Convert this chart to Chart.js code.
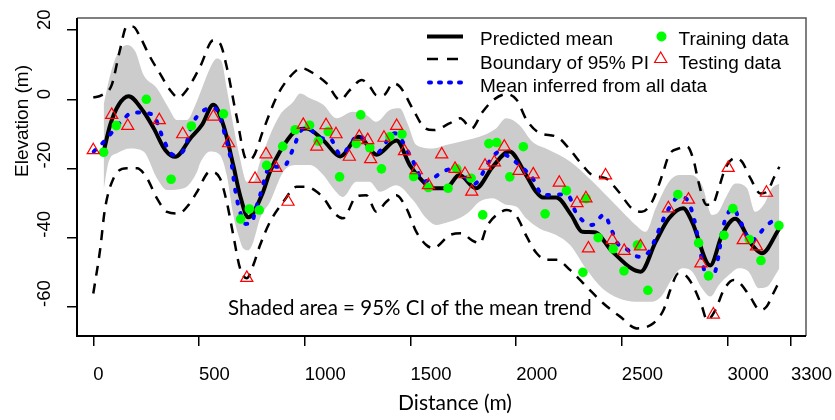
<!DOCTYPE html>
<html>
<head>
<meta charset="utf-8">
<script src="https://cdn.jsdelivr.net/npm/chart.js@4.4.1/dist/chart.umd.min.js"></script>
<style>
  html, body { margin: 0; padding: 0; background: #fff; }
  canvas { display: block; }
</style>
</head>
<body>
<canvas id="chart" width="835" height="420"></canvas>
<script>
// tick labels
const xTicks = [0, 500, 1000, 1500, 2000, 2500, 3000, 3300];
const yTicks = [-60, -40, -20, 0, 20];

// predicted mean (black solid)
const meanDist = [49, 80, 120, 167, 238, 286, 341, 388, 459, 514, 568, 615, 662, 694, 733, 797, 836, 883, 962, 1009,
  1090, 1168, 1256, 1340, 1434, 1497, 1560, 1606, 1668, 1731, 1810, 1889, 1968, 2047, 2094, 2127, 2190, 2260, 2313,
  2370, 2455, 2589, 2660, 2723, 2790, 2832, 2918, 2974, 3036, 3116, 3163, 3243];
const meanElev = [-15.1, -7.4, -1.6, 0.9, -3.6, -8.4, -14.7, -16.6, -11.3, -7.4, -1.6, -7.4, -19, -27.7, -34.1, -27.7,
  -20.9, -15.1, -8.9, -8.4, -12, -16.5, -10.8, -16, -11.9, -19, -23.8, -25.7, -25.7, -21.9, -25.7, -19.5, -15.1, -21.9,
  -26.7, -28.4, -28.4, -33.4, -38.3, -38.4, -44, -49.8, -41.2, -34.4, -31.5, -35.4, -48, -39.2, -34.5, -42.1, -44.5, -37.5];

// mean inferred from all data (blue dotted)
const allDist = [2, 57, 128, 188, 286, 309, 336, 380, 428, 467, 509, 572, 631, 655, 670, 694, 720, 749, 765, 789, 836,
  899, 946, 978, 1009, 1088, 1118, 1170, 1256, 1340, 1425, 1497, 1528, 1560, 1607, 1654, 1716, 1740, 1800, 1873, 1921,
  1953, 2015, 2078, 2126, 2200, 2250, 2281, 2360, 2415, 2455, 2479, 2518, 2581, 2629, 2652, 2691, 2723, 2770, 2802,
  2841, 2879, 2903, 2935, 2958, 2974, 2998, 3029, 3053, 3077, 3108, 3139, 3187, 3234, 3248];
const allElev = [-15.1, -11.8, -6.7, -3.8, -4.5, -7.9, -12.2, -16.1, -14.7, -7.4, -3.8, -2.5, -12.2, -19, -25.7, -32.5,
  -36, -35.8, -32.5, -27.7, -19.5, -19.5, -14.2, -9.4, -8.4, -11.3, -11.3, -16, -10.5, -15.5, -9.8, -16.1, -19.9, -23.8,
  -22.8, -20.9, -19.9, -21, -24.5, -18, -15.1, -16.1, -19, -22.8, -27.7, -27.5, -28.1, -32.5, -36.3, -33.4, -38.3, -41.6,
  -43.1, -45.5, -44, -41.2, -35.4, -31.5, -28.2, -28.6, -34.4, -46.4, -51.7, -50.8, -45, -38.3, -33.4, -31.5, -34.4,
  -37.3, -41.2, -39.7, -36.3, -34.9, -34.9];

// 95% CI of the mean trend (grey band)
const ciUpDist = [49, 80, 112, 159, 199, 238, 301, 357, 396, 443, 483, 514, 552, 584, 607, 631, 662, 694, 726, 757, 789,
  836, 883, 946, 978, 1025, 1088, 1150, 1228, 1291, 1339, 1402, 1449, 1489, 1528, 1607, 1668, 1763, 1826, 1905, 1953,
  2015, 2078, 2141, 2204, 2255, 2345, 2440, 2502, 2565, 2613, 2660, 2723, 2770, 2825, 2879, 2927, 2958, 2990, 3037,
  3092, 3131, 3171, 3210, 3245];
const ciUpElev = [-1.6, 7, 12.8, 15.7, 13.8, 7, 3.2, -2.6, -6, -6, -1.6, 3.2, 9, 11.8, 10.9, 3.2, -7.4, -17, -23.8, -23.8,
  -18, -10.3, -4.5, -0.7, 1.7, 0.3, -1.6, -5.5, -3.6, -4.5, -6.5, -3.1, -2.6, -7.4, -13.2, -14.2, -13.2, -11.8, -10.8,
  -8.4, -5.5, -7.4, -12.3, -14.2, -16.1, -18, -22.8, -28.6, -32.5, -36.3, -38.3, -31.5, -23.8, -21.9, -21.9, -24.8,
  -33.4, -32.5, -28.6, -24.3, -25.7, -32.5, -30.5, -25.7, -24.3];
const ciLoDist = [49, 73, 112, 175, 238, 301, 349, 428, 491, 505, 552, 599, 631, 662, 686, 710, 733, 757, 789, 836, 899,
  962, 1025, 1088, 1134, 1181, 1244, 1307, 1355, 1433, 1512, 1575, 1622, 1673, 1731, 1779, 1826, 1889, 1953, 2000,
  2047, 2110, 2189, 2255, 2329, 2407, 2485, 2565, 2643, 2691, 2739, 2786, 2833, 2879, 2919, 2958, 3006, 3053, 3100,
  3148, 3187, 3226, 3245];
const ciLoElev = [-26.2, -18, -15.6, -14.2, -15.1, -22.8, -26.2, -25.7, -20.9, -18.5, -15.1, -16.1, -21.9, -33.4, -39.2,
  -43.1, -43.6, -41.2, -34.4, -29.6, -20.9, -19, -19, -21.9, -25.7, -28.2, -23.8, -23.8, -26.7, -24.8, -29.1, -34.4,
  -36.3, -35.6, -34.4, -32.5, -29.6, -28.6, -30.5, -31, -34.4, -37.3, -39.2, -42.1, -48.8, -54.6, -57.5, -58.5, -58.5,
  -56.6, -51.7, -48.8, -49.8, -54.6, -57, -53.7, -50.8, -48.8, -49.8, -54.6, -54.2, -50.8, -48.8];

// boundary of 95% PI (black dashed)
const piUpDist = [0, 40, 87, 126, 158, 189, 221, 268, 315, 363, 402, 442, 505, 568, 599, 631, 678, 726, 757, 804, 868,
  930, 986, 1041, 1104, 1167, 1214, 1270, 1309, 1340, 1372, 1419, 1451, 1514, 1561, 1608, 1687, 1735, 1790, 1837, 1892,
  1956, 2003, 2050, 2113, 2192, 2250, 2313, 2360, 2423, 2485, 2547, 2594, 2643, 2691, 2723, 2770, 2809, 2841, 2862,
  2901, 2927, 2958, 2990, 3037, 3068, 3108, 3155, 3187, 3218, 3245];
const piUpElev = [0.5, 1.2, 4.1, 14.2, 21, 21, 18.1, 12.3, 7.5, 2.7, 0.5, 2.7, 9.4, 17.1, 16.2, 9.4, -5, -17.5, -16.6,
  -8.9, 0.8, 6.5, 9, 7.5, 4.6, -0.2, 2.7, 5.6, 3.6, 1.2, 1.2, 4.6, 3.6, -3.1, -7.9, -8.9, -6.9, -5.5, -8.4, -4, -0.2,
  1.5, -0.2, -6, -9.8, -10.8, -14.2, -19, -21.9, -22.8, -26.7, -31.5, -32.5, -29.6, -21.9, -16.1, -14.2, -13.7, -18,
  -23.8, -30.5, -30.5, -25.7, -19.9, -17, -18, -22.8, -27.2, -26.7, -22.8, -19.5];
const piLoDist = [0, 32, 55, 96, 159, 207, 254, 301, 349, 404, 451, 491, 552, 599, 631, 662, 694, 726, 757, 789, 836,
  899, 962, 1009, 1057, 1096, 1134, 1181, 1244, 1291, 1339, 1386, 1433, 1481, 1528, 1575, 1608, 1687, 1743, 1790, 1829,
  1861, 1908, 1956, 2003, 2050, 2097, 2145, 2192, 2255, 2334, 2413, 2492, 2571, 2649, 2697, 2729, 2768, 2800, 2839,
  2879, 2903, 2942, 2982, 3029, 3060, 3106, 3154, 3185, 3216, 3240];
const piLoElev = [-56.1, -43.6, -31.8, -22.8, -19.9, -19.9, -22.8, -28.6, -32.5, -33, -30.5, -26.7, -20.9, -22.8, -29.6,
  -39.2, -48.8, -51.7, -47.9, -42.1, -35.4, -29.6, -25.3, -25.3, -26.7, -29.1, -32.5, -34.4, -28.1, -27.7, -32.5, -29.6,
  -27.7, -31.5, -38.3, -42.1, -43, -39.2, -38.7, -40.7, -41.6, -36.8, -33.4, -32, -33.9, -39.7, -44.5, -46.4, -46.4,
  -49.3, -54.2, -59, -62.8, -66.2, -64.7, -60.9, -55.1, -50.3, -50.8, -54.2, -59.9, -63.8, -60.9, -55.1, -52.2, -53.2,
  -57, -60.9, -59.9, -56.1, -53.2];

// training data (green dots)
const trainDist = [49, 109, 251, 368, 464, 616, 697, 738, 785, 820, 896, 955, 1023, 1064, 1111, 1165, 1244, 1265, 1308,
  1363, 1403, 1460, 1515, 1585, 1678, 1719, 1787, 1842, 1871, 1908, 1970, 2034, 2137, 2238, 2316, 2331, 2388, 2459,
  2510, 2574, 2623, 2765, 2863, 2910, 2983, 3025, 3103, 3158, 3243];
const trainElev = [-15.3, -7.6, 0, -23.1, -7.7, -4.2, -34.6, -31.7, -32, -19.1, -13.6, -8.8, -7.5, -12.1, -9.3, -22.4,
  -12.8, -4.5, -14, -20.1, -10.8, -10.1, -22.3, -25.5, -25.7, -20.1, -22.8, -33.4, -12.8, -12.5, -22.4, -13.7, -33.1,
  -26.4, -50, -28.7, -40, -43.2, -49.6, -42.1, -55.2, -27.5, -41.5, -51, -39.3, -31.6, -40.5, -46.6, -36.5];

// testing data (red triangles)
const testDist = [0, 87, 163, 312, 423, 568, 640, 726, 765, 817, 864, 921, 993, 1057, 1101, 1148, 1211, 1258, 1298,
  1312, 1375, 1435, 1472, 1528, 1585, 1648, 1711, 1758, 1790, 1853, 1897, 1944, 2014, 2081, 2204, 2288, 2330, 2342,
  2423, 2455, 2511, 2588, 2720, 2815, 2874, 2933, 3003, 3074, 3137, 3184];
const testElev = [-14.7, -4.5, -7.7, -6, -10.1, -5, -12.7, -51.6, -23, -15.9, -19.8, -29.6, -7.4, -13.7, -7.5, -10.1,
  -16.6, -10.8, -11.8, -17.3, -11.1, -7.7, -15, -20.5, -24.8, -15.9, -20.1, -21.6, -26.7, -19.2, -18.2, -13.7, -20.7,
  -21.7, -24.1, -30, -28.6, -43.1, -22, -40.7, -43.8, -42.5, -31.5, -29, -47.4, -62.2, -19.8, -40.7, -42.5, -27];

const zip = (xs, ys) => xs.map((x, i) => ({ x: x, y: ys[i] }));

const RED = "#ff0000";
const GREEN = "#00ff00";
const BLUE = "#0000ff";
const GREY = "#cccccc";

// axes box, tick labels, titles, legend and note
const decorations = {
  id: "decorations",
  afterDraw(chart) {
    const ctx = chart.ctx;
    const { left, right, top, bottom } = chart.chartArea;
    const xs = chart.scales.x;
    const ys = chart.scales.y;
    ctx.save();

    // box
    ctx.strokeStyle = "#555";
    ctx.lineWidth = 1.5;
    ctx.beginPath();
    ctx.moveTo(left, top); ctx.lineTo(right, top); ctx.lineTo(right, bottom);
    ctx.stroke();
    ctx.strokeStyle = "#000";
    ctx.lineWidth = 2;
    ctx.beginPath();
    ctx.moveTo(left, top); ctx.lineTo(left, bottom); ctx.lineTo(right, bottom);
    ctx.stroke();

    ctx.fillStyle = "#000";
    ctx.font = '18.5px "Liberation Sans"';
    ctx.textAlign = "left";
    ctx.textBaseline = "alphabetic";
    xTicks.forEach(v => ctx.fillText(String(v), xs.getPixelForValue(v), 380));
    yTicks.forEach(v => {
      ctx.save();
      ctx.translate(50, ys.getPixelForValue(v));
      ctx.rotate(-Math.PI / 2);
      ctx.fillText(String(v), 0, 0);
      ctx.restore();
    });

    // axis titles
    ctx.textAlign = "center";
    ctx.font = '21px Lato';
    ctx.fillText("Distance (m)", 455, 410);
    ctx.save();
    ctx.translate(28, 121);
    ctx.rotate(-Math.PI / 2);
    ctx.font = '19px "Liberation Sans"';
    ctx.fillText("Elevation (m)", 0, 0);
    ctx.restore();

    ctx.textAlign = "left";
    ctx.font = '20.5px Lato';
    ctx.fillText("Shaded area = 95% CI of the mean trend", 228, 315);

    // legend
    ctx.font = '19px "Liberation Sans"';
    ctx.fillText("Predicted mean", 480, 45);
    ctx.fillText("Boundary of 95% PI", 480, 68.5);
    ctx.fillText("Mean inferred from all data", 480, 91.7);
    ctx.fillText("Training data", 678.5, 45);
    ctx.fillText("Testing data", 678.5, 68.5);

    ctx.lineCap = "butt";
    ctx.strokeStyle = "#000";
    ctx.lineWidth = 4;
    ctx.setLineDash([]);
    ctx.beginPath(); ctx.moveTo(427, 36.5); ctx.lineTo(463, 36.5); ctx.stroke();
    ctx.lineWidth = 2.5;
    ctx.setLineDash([11, 9]);
    ctx.beginPath(); ctx.moveTo(427, 59); ctx.lineTo(463, 59); ctx.stroke();
    ctx.strokeStyle = BLUE;
    ctx.lineWidth = 4;
    ctx.lineCap = "round";
    ctx.setLineDash([2, 8]);
    ctx.beginPath(); ctx.moveTo(429, 82.5); ctx.lineTo(463, 82.5); ctx.stroke();
    ctx.setLineDash([]);

    ctx.fillStyle = GREEN;
    ctx.beginPath(); ctx.arc(661.5, 36.5, 5, 0, Math.PI * 2); ctx.fill();
    ctx.strokeStyle = RED;
    ctx.lineWidth = 1.2;
    ctx.lineCap = "butt";
    ctx.beginPath();
    ctx.moveTo(660.7, 52); ctx.lineTo(666.8, 62.5); ctx.lineTo(654.6, 62.5); ctx.closePath();
    ctx.stroke();

    ctx.restore();
  }
};

const lineStyle = {
  showLine: true,
  pointRadius: 0,
  cubicInterpolationMode: "monotone",
  fill: false
};

new Chart(document.getElementById("chart"), {
  type: "line",
  data: {
    datasets: [
      {
        label: "Testing data",
        data: zip(testDist, testElev),
        showLine: false,
        pointStyle: "triangle",
        pointRadius: 7,
        pointBorderWidth: 1.2,
        borderColor: RED,
        pointBorderColor: RED,
        pointBackgroundColor: "rgba(0,0,0,0)",
        order: 1
      },
      {
        label: "Training data",
        data: zip(trainDist, trainElev),
        showLine: false,
        pointStyle: "circle",
        pointRadius: 4.8,
        pointBorderWidth: 0,
        pointBackgroundColor: GREEN,
        borderColor: GREEN,
        order: 2
      },
      {
        ...lineStyle,
        label: "Mean inferred from all data",
        data: zip(allDist, allElev),
        borderColor: BLUE,
        borderWidth: 4,
        borderDash: [2, 10],
        borderCapStyle: "round",
        order: 3
      },
      {
        ...lineStyle,
        label: "Predicted mean",
        data: zip(meanDist, meanElev),
        borderColor: "#000",
        borderWidth: 4,
        order: 4
      },
      {
        ...lineStyle,
        label: "Upper PI",
        data: zip(piUpDist, piUpElev),
        borderColor: "#000",
        borderWidth: 2.5,
        borderDash: [10, 8],
        order: 5
      },
      {
        ...lineStyle,
        label: "Lower PI",
        data: zip(piLoDist, piLoElev),
        borderColor: "#000",
        borderWidth: 2.5,
        borderDash: [10, 8],
        order: 6
      },
      {
        ...lineStyle,
        label: "Upper CI",
        data: zip(ciUpDist, ciUpElev),
        borderWidth: 0,
        borderColor: GREY,
        backgroundColor: GREY,
        fill: "+1",
        order: 7
      },
      {
        ...lineStyle,
        label: "Lower CI",
        data: zip(ciLoDist, ciLoElev),
        borderWidth: 0,
        borderColor: GREY,
        backgroundColor: GREY,
        order: 8
      }
    ]
  },
  options: {
    responsive: false,
    animation: false,
    devicePixelRatio: 1,
    layout: { padding: { left: 0, right: 29, top: 18, bottom: 0 } },
    plugins: {
      legend: { display: false },
      tooltip: { enabled: false }
    },
    scales: {
      x: {
        type: "linear",
        min: -77,
        max: 3371,
        afterBuildTicks: s => { s.ticks = xTicks.map(v => ({ value: v })); },
        afterFit: s => { s.height = 84; s.paddingLeft = 0; s.paddingRight = 0; },
        grid: { drawOnChartArea: false, drawTicks: true, tickLength: 10, color: "#000", lineWidth: 1.5 },
        border: { display: false },
        ticks: { display: false }
      },
      y: {
        type: "linear",
        min: -68.4,
        max: 23.5,
        afterBuildTicks: s => { s.ticks = yTicks.map(v => ({ value: v })); },
        afterFit: s => { s.width = 77; },
        grid: { drawOnChartArea: false, drawTicks: true, tickLength: 10, color: "#000", lineWidth: 1.5 },
        border: { display: false },
        ticks: { display: false }
      }
    }
  },
  plugins: [decorations]
});
</script>
</body>
</html>
